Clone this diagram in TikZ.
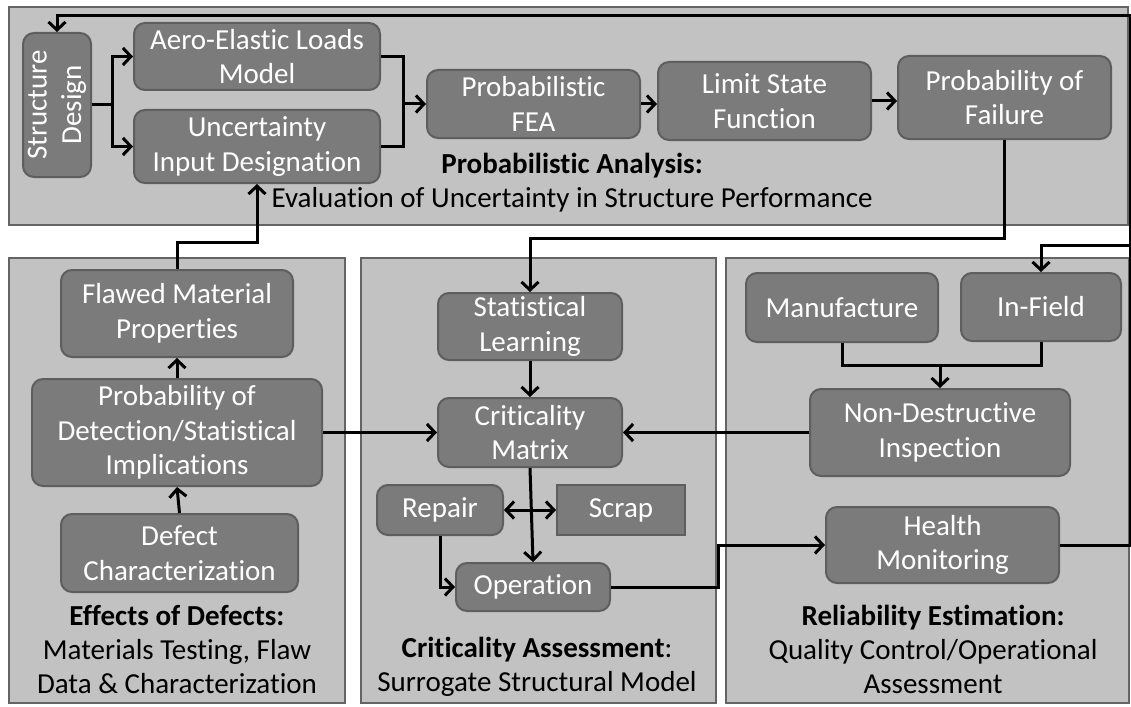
\documentclass[tikz,border=0pt]{standalone}
\usepackage{fontspec}
\setmainfont{Carlito}[Ligatures = NoCommon]
\usetikzlibrary{arrows.meta}
\definecolor{panelfill}{HTML}{C2C2C2}
\definecolor{paneldraw}{HTML}{646464}
\definecolor{blockfill}{HTML}{7B7B7B}
\definecolor{blockdraw}{HTML}{5E5E5E}

\begin{document}
\begin{tikzpicture}[x = 1pt, y = -1pt]
		\tikzset{panel/.style={draw = paneldraw, fill = panelfill, line width = 2.5pt}}
		\tikzset{block/.style={shape = rectangle, rounded corners = 11pt, draw = blockdraw, fill = blockfill, line width = 2pt, text = white, align = center, inner sep = 1pt, font = \fontsize{29}{34.5}\selectfont}}
		\tikzset{caption/.style={align = center, inner sep = 0pt, font = \fontsize{29}{34}\selectfont}}
		\tikzset{link/.style={line width = 3pt}}
		\tikzset{edge/.style={->, > = {Straight Barb[length = 8pt, width = 17pt]}, line width = 3pt}}
					\useasboundingbox (0, 0) rectangle (1131, 706);
					%panels
					\draw[panel] (9, 7) rectangle (1128, 225);
					\draw[panel] (9, 258) rectangle (345, 703);
					\draw[panel] (361, 258) rectangle (716, 703);
					\draw[panel] (726, 258) rectangle (1129, 703);
					%probabilistic analysis
					\node[block, rotate = 90, minimum width = 144pt, minimum height = 68pt] (sd) at (57, 105) {Structure\\Design};
					\node[block, minimum width = 246pt, minimum height = 67pt] (aero) at (257, 56.5) {Aero-Elastic Loads\\Model};
					\node[block, minimum width = 246pt, minimum height = 73pt] (unc) at (257, 146.5) {Uncertainty\\Input Designation};
					\node[block, minimum width = 213pt, minimum height = 68pt] (fea) at (533.5, 104) {Probabilistic\\FEA};
					\node[block, minimum width = 213pt, minimum height = 78pt] (lsf) at (764.5, 101) {Limit State\\Function};
					\node[block, minimum width = 213pt, minimum height = 83pt] (pof) at (1004.5, 97.5) {Probability of\\Failure};
					\node[caption] (patext) at (572, 182.5) {\textbf{Probabilistic Analysis:}\\Evaluation of Uncertainty in Structure Performance};
					%effects of defects
					\node[block, minimum width = 232pt, minimum height = 87pt] (flawed) at (177, 313.5) {Flawed Material\\Properties};
					\node[block, minimum width = 290pt, minimum height = 107pt] (pod) at (177, 432.5) {Probability of\\Detection/Statistical\\Implications};
					\node[block, minimum width = 237pt, minimum height = 78pt] (defect) at (179.5, 553) {Defect\\Characterization};
					\node[caption] (eftext) at (177, 650) {\textbf{Effects of Defects:}\\Materials Testing, Flaw\\Data \& Characterization};
					%criticality assessment
					\node[block, minimum width = 184pt, minimum height = 67pt] (stat) at (530, 326.5) {Statistical\\Learning};
					\node[block, minimum width = 184pt, minimum height = 69pt] (crit) at (530, 432.5) {Criticality\\Matrix};
					\node[block, minimum width = 126pt, minimum height = 50pt] (repair) at (440, 510) {Repair};
					\node[block, sharp corners, minimum width = 128pt, minimum height = 50pt] (scrap) at (621, 510) {Scrap};
					\node[block, minimum width = 154pt, minimum height = 48pt] (oper) at (533, 587) {Operation};
					\node[caption] (catext) at (537, 666.5) {\textbf{Criticality Assessment}:\\Surrogate Structural Model};
					%reliability estimation
					\node[block, minimum width = 192pt, minimum height = 69pt] (manu) at (842, 307.5) {Manufacture};
					\node[block, minimum width = 160pt, minimum height = 68pt] (infield) at (1041, 307) {In-Field};
					\node[block, minimum width = 260pt, minimum height = 87pt] (ndi) at (940, 432.5) {Non-Destructive\\Inspection};
					\node[block, minimum width = 233pt, minimum height = 76pt] (health) at (942.5, 545) {Health\\Monitoring};
					\node[caption] (retext) at (933, 649) {\textbf{Reliability Estimation:}\\Quality Control/Operational\\Assessment};
					%bends
					\coordinate (sdsplit) at (112.5, 105);
					\coordinate (feamerge) at (403.5, 104);
					\coordinate (pofbend) at (1004.5, 238);
					\coordinate (flawbend) at (177, 242);
					\coordinate (opbend) at (718.5, 587);
					\coordinate (ndijoin) at (940, 365);
					\coordinate (loopcorner) at (1130, 16);
					\coordinate (loopbranch) at (1130, 245);
					%edges
					\draw[link] (sd.south) -- (sdsplit);
					\draw[edge] (sdsplit) |- (aero.west);
					\draw[edge] (sdsplit) |- (unc.west);
					\draw[link] (aero.east) -| (feamerge);
					\draw[link] (unc.east) -| (feamerge);
					\draw[edge] (feamerge) -- (fea.west);
					\draw[edge] (fea.east) -- (fea.east -| lsf.west);
					\draw[edge] (lsf.east) -- (lsf.east -| pof.west);
					\draw[edge] (pof.south) -- (pofbend) -| (stat.north);
					\draw[edge] (defect.north) -- (pod.south);
					\draw[edge] (pod.north) -- (flawed.south);
					\draw[edge] (flawed.north) -- (flawbend) -| (unc.south);
					\draw[edge] (pod.east) -- (crit.west);
					\draw[edge] (stat.south) -- (crit.north);
					\draw[edge] (crit.south) -- (oper.north);
					\draw[edge, <->] (repair.east) -- (scrap.west);
					\draw[edge] (repair.south) |- (oper.west);
					\draw[edge] (oper.east) -- (opbend) |- (health.west);
					\draw[link] (manu.south) |- (ndijoin) -| (infield.south);
					\draw[edge] (ndijoin) -- (ndi.north);
					\draw[edge] (ndi.west) -- (crit.east);
					\draw[edge] (health.east) -| (loopcorner) -| (sd.east);
					\draw[edge] (loopbranch) -| (infield.north);
					
\end{tikzpicture}
\end{document}
